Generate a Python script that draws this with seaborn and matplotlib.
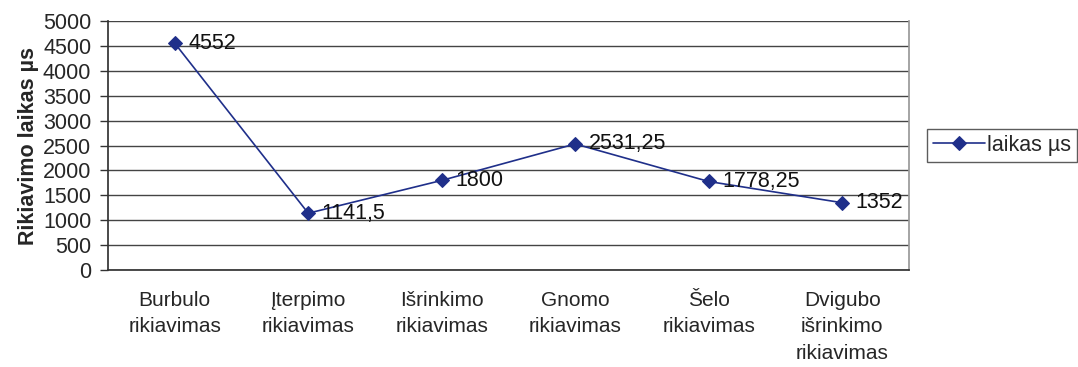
import numpy as np
import pandas as pd
import matplotlib
matplotlib.use("Agg")
import matplotlib.pyplot as plt
import seaborn as sns

# duomenys
categories = ["Burbulo\nrikiavimas", "Įterpimo\nrikiavimas", "Išrinkimo\nrikiavimas",
              "Gnomo\nrikiavimas", "Šelo\nrikiavimas", "Dvigubo\nišrinkimo\nrikiavimas"]
laikas = [4552, 1141.5, 1800, 2531.25, 1778.25, 1352]
value_labels = ["4552", "1141,5", "1800", "2531,25", "1778,25", "1352"]

df = pd.DataFrame({"algoritmas": categories, "laikas": laikas})

sns.set_theme(style="white")
plt.rcParams['font.family'] = ['Liberation Sans', 'DejaVu Sans']

fig = plt.figure(figsize=(10.78, 3.67), dpi=100)
ax = fig.add_axes([0.1002, 0.264, 0.7430, 0.679])

x = np.arange(len(categories))
sns.lineplot(x=x, y=df["laikas"], ax=ax, color="#1f2f8a", linewidth=1.2,
             marker="D", markersize=7, markeredgecolor="#1f2f8a", label="laikas µs")

for xi, v, lab in zip(x, laikas, value_labels):
    ax.text(xi + 0.1, v, lab, fontsize=15.5, va="center", ha="left", color="#111111")

ax.set_xlim(-0.5, len(categories) - 0.5)
ax.set_ylim(0, 5000)
ax.set_yticks(np.arange(0, 5001, 500))
ax.set_xticks(x)
ax.set_xticklabels(categories, fontsize=15, linespacing=1.5)
ax.tick_params(axis="y", labelsize=15.5, length=6, width=1, color="#333333", direction="out", left=True, pad=6)
ax.tick_params(axis="x", length=0, pad=15)
ax.yaxis.grid(True, color="#444444", linewidth=1)
ax.set_axisbelow(True)
ax.set_xlabel("")
ax.set_ylabel("Rikiavimo laikas µs", fontsize=15.5, fontweight="bold", labelpad=3)

ax.spines["top"].set_visible(False)
ax.spines["left"].set_color("#333333")
ax.spines["bottom"].set_color("#333333")
ax.spines["right"].set_color("#999999")

leg = ax.legend(loc="center left", bbox_to_anchor=(1.022, 0.5), fontsize=15.5, frameon=True,
                fancybox=False, edgecolor="#333333", handlelength=2.4, handletextpad=0.1,
                borderpad=0.3, borderaxespad=0)
leg.get_frame().set_linewidth(1)

fig.savefig("out.png", dpi=100)
